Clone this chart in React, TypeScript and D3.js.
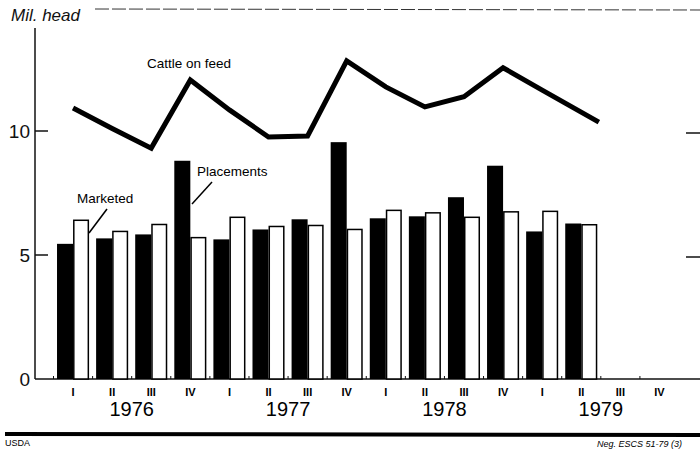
import React, { useEffect, useRef } from 'react';
import * as d3 from 'd3';

// Quarterly data, million head
const YEARS = ['1976', '1977', '1978', '1979'];
const QUARTERS = ['I', 'II', 'III', 'IV'];
const PLACEMENTS = [5.45, 5.67, 5.83, 8.8, 5.63, 6.03, 6.44, 9.55, 6.48, 6.56, 7.33, 8.6, 5.95, 6.27];
const MARKETED = [6.4, 5.95, 6.23, 5.7, 6.52, 6.15, 6.19, 6.03, 6.8, 6.7, 6.52, 6.74, 6.76, 6.22];
const ON_FEED = [10.93, 10.1, 9.31, 12.06, 10.85, 9.76, 9.8, 12.83, 11.78, 10.97, 11.38, 12.55, 11.65, 10.36];
// quarter index of each cattle-on-feed reading (last one is mid-quarter)
const ON_FEED_AT = [0, 1, 2, 3, 4, 5, 6, 7, 8, 9, 10, 11, 12, 13.45];
const Y_TICKS = [0, 5, 10];

const W = 700;
const H = 457;
const FONT = '"Liberation Sans", Arial, Helvetica, sans-serif';

const App: React.FC = () => {
  const svgRef = useRef<SVGSVGElement>(null);

  useEffect(() => {
    if (!svgRef.current) return;
    const svg = d3.select(svgRef.current);
    svg.selectAll('*').remove();

    const keys = YEARS.flatMap((y) => QUARTERS.map((q) => `${y}-${q}`));

    const x = d3.scaleBand<string>()
      .domain(keys)
      .range([53.5, 679])
      .paddingInner(0.18)
      .paddingOuter(0.09);
    const sub = d3.scaleBand<string>()
      .domain(['placements', 'marketed'])
      .range([0, x.bandwidth()]);
    const y = d3.scaleLinear().domain([0, 10]).range([379, 131]);
    // quarter index -> center of the quarter
    const xq = d3.scaleLinear()
      .domain([0, 1])
      .range([x(keys[0])! + x.bandwidth() / 2, x(keys[1])! + x.bandwidth() / 2]);

    // top dashed rule
    svg.append('line')
      .attr('x1', 95).attr('x2', W).attr('y1', 9).attr('y2', 10)
      .attr('stroke', '#333').attr('stroke-width', 1)
      .attr('stroke-dasharray', '14,3');

    // axes
    svg.append('line')
      .attr('x1', 35).attr('x2', 35).attr('y1', 28).attr('y2', y(0))
      .attr('stroke', '#111').attr('stroke-width', 1.5);
    svg.append('line')
      .attr('x1', 35).attr('x2', W).attr('y1', y(0)).attr('y2', y(0))
      .attr('stroke', '#111').attr('stroke-width', 1.5);

    Y_TICKS.forEach((t) => {
      if (t > 0) {
        svg.append('line')
          .attr('x1', 35).attr('x2', 48).attr('y1', y(t)).attr('y2', y(t))
          .attr('stroke', '#111').attr('stroke-width', 1.5);
        svg.append('line')
          .attr('x1', 686).attr('x2', W).attr('y1', y(t) + 2).attr('y2', y(t) + 2)
          .attr('stroke', '#111').attr('stroke-width', 1.5);
      }
      svg.append('text')
        .attr('x', 30).attr('y', y(t) + 7)
        .attr('text-anchor', 'end')
        .attr('font-family', FONT).attr('font-size', '19px')
        .attr('fill', '#111')
        .text(String(t));
    });

    svg.append('text')
      .attr('x', 11).attr('y', 21)
      .attr('font-family', FONT).attr('font-size', '17px')
      .attr('font-style', 'italic').attr('fill', '#111')
      .text('Mil. head');

    // small ticks at quarter boundaries
    keys.forEach((k) => {
      const bx = x(k)! - (x.step() - x.bandwidth()) / 2;
      svg.append('line')
        .attr('x1', bx).attr('x2', bx).attr('y1', y(0)).attr('y2', y(0) - 3)
        .attr('stroke', '#111').attr('stroke-width', 1);
    });

    // bars
    const barG = svg.append('g');
    PLACEMENTS.forEach((v, i) => {
      barG.append('rect')
        .attr('x', x(keys[i])! + sub('placements')!)
        .attr('y', y(v))
        .attr('width', sub.bandwidth())
        .attr('height', y(0) - y(v))
        .attr('fill', '#000');
    });
    MARKETED.forEach((v, i) => {
      barG.append('rect')
        .attr('x', x(keys[i])! + sub('marketed')! + 0.75)
        .attr('y', y(v))
        .attr('width', sub.bandwidth() - 1.5)
        .attr('height', y(0) - y(v))
        .attr('fill', '#fff')
        .attr('stroke', '#000')
        .attr('stroke-width', 1.5);
    });

    // cattle on feed line
    const line = d3.line<number>()
      .x((_, i) => xq(ON_FEED_AT[i]))
      .y((d) => y(d));
    svg.append('path')
      .datum(ON_FEED)
      .attr('d', line)
      .attr('fill', 'none')
      .attr('stroke', '#000')
      .attr('stroke-width', 5)
      .attr('stroke-linejoin', 'miter');

    // annotations
    const label = (tx: number, ty: number, s: string) =>
      svg.append('text')
        .attr('x', tx).attr('y', ty)
        .attr('font-family', FONT).attr('font-size', '13.5px')
        .attr('fill', '#000')
        .text(s);
    label(147, 68, 'Cattle on feed');
    label(77, 203, 'Marketed');
    label(197, 176, 'Placements');

    svg.append('line')
      .attr('x1', 107).attr('y1', 209).attr('x2', 89).attr('y2', 233)
      .attr('stroke', '#000').attr('stroke-width', 1.5);
    svg.append('line')
      .attr('x1', 212).attr('y1', 182).attr('x2', 192).attr('y2', 204)
      .attr('stroke', '#000').attr('stroke-width', 1.5);

    // quarter and year labels
    keys.forEach((k, i) => {
      svg.append('text')
        .attr('x', x(k)! + x.bandwidth() / 2)
        .attr('y', 396)
        .attr('text-anchor', 'middle')
        .attr('font-family', FONT).attr('font-size', '11px')
        .attr('font-weight', 'bold')
        .attr('fill', '#000')
        .text(QUARTERS[i % 4]);
    });
    YEARS.forEach((yr, i) => {
      const a = x(keys[i * 4 + 1])!;
      const b = x(keys[i * 4 + 2])! + x.bandwidth();
      svg.append('text')
        .attr('x', (a + b) / 2)
        .attr('y', 416)
        .attr('text-anchor', 'middle')
        .attr('font-family', FONT).attr('font-size', '20px')
        .attr('fill', '#000')
        .text(yr);
    });

    // footer
    svg.append('line')
      .attr('x1', 5).attr('x2', W).attr('y1', 434).attr('y2', 435)
      .attr('stroke', '#000').attr('stroke-width', 4);
    svg.append('text')
      .attr('x', 5).attr('y', 446)
      .attr('font-family', FONT).attr('font-size', '9px')
      .attr('fill', '#000')
      .text('USDA');
    svg.append('text')
      .attr('x', 597).attr('y', 447)
      .attr('font-family', FONT).attr('font-size', '9px')
      .attr('font-style', 'italic')
      .attr('fill', '#000')
      .text('Neg. ESCS 51-79 (3)');
  }, []);

  return (
    <svg
      ref={svgRef}
      width={W}
      height={H}
      style={{ position: 'absolute', left: 0, top: 0, display: 'block', background: '#fff' }}
    />
  );
};

export default App;
